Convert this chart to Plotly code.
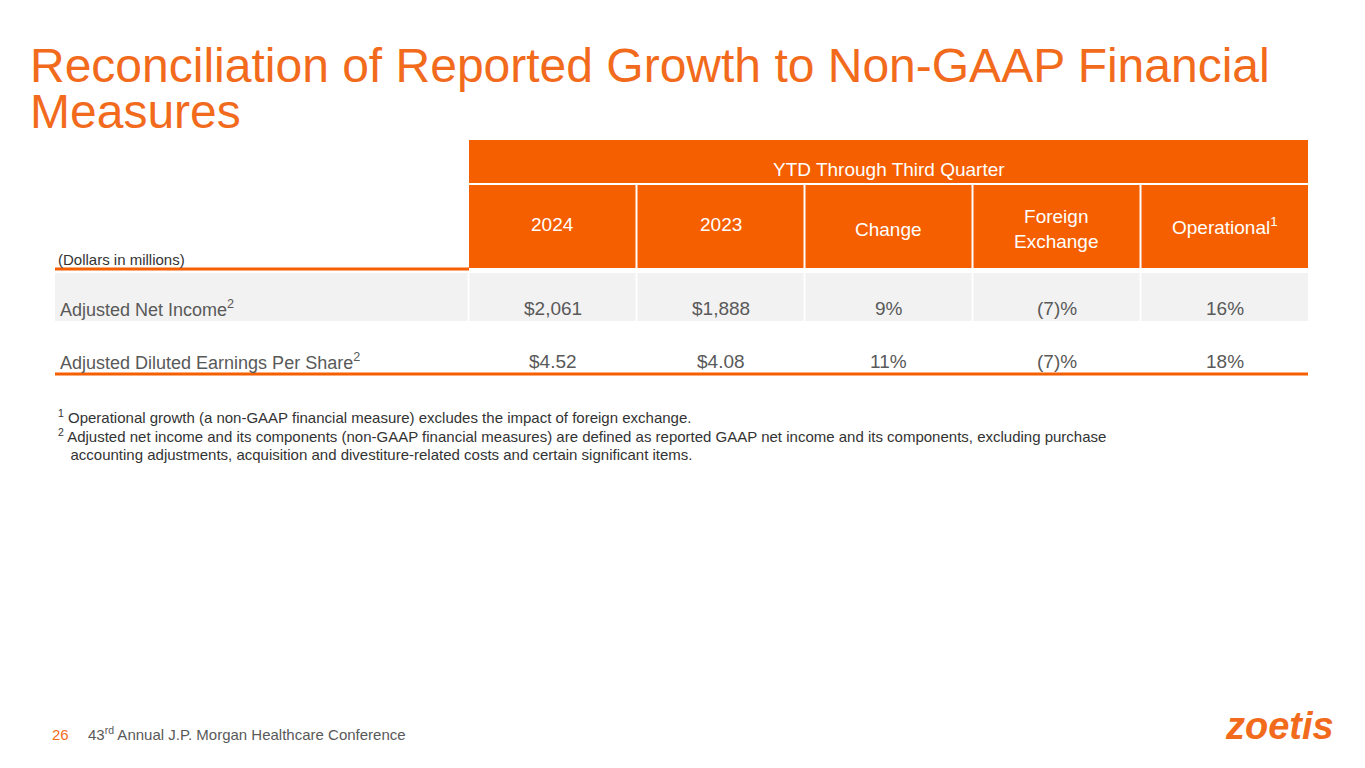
import plotly.graph_objects as go

# Table data
header_top = "YTD Through Third Quarter"
columns = ["2024", "2023", "Change", "Foreign<br>Exchange", "Operational<sup>1</sup>"]
row_labels = ["Adjusted Net Income<sup>2</sup>", "Adjusted Diluted Earnings Per Share<sup>2</sup>"]
values_2024 = ["$2,061", "$4.52"]
values_2023 = ["$1,888", "$4.08"]
change = ["9%", "11%"]
fx = ["(7)%", "(7)%"]
operational = ["16%", "18%"]

ORANGE = "#F55F00"
TITLE = "#F26B1D"
GREY = "#595959"
FONT = "Liberation Sans, Arial, sans-serif"

fig = go.Figure()
shapes = []
ann = []

col_x0 = [469, 637, 805, 973, 1141]
col_w = 167
right = 1308

# header blocks
shapes.append(dict(type="rect", x0=469, x1=right, y0=140, y1=268, fillcolor=ORANGE, line_width=0, layer="below"))
shapes.append(dict(type="line", x0=469, x1=right, y0=184, y1=184, line=dict(color="white", width=2)))
for x in col_x0[1:]:
    shapes.append(dict(type="line", x0=x - 0.5, x1=x - 0.5, y0=184, y1=268, line=dict(color="white", width=2)))
ann.append(dict(x=(469 + right) / 2, y=169, text=header_top, font=dict(size=19, color="white")))
col_y = [224, 224, 229, 229, 226]
for x, t, y in zip(col_x0, columns, col_y):
    ann.append(dict(x=x + col_w / 2, y=y, text=t, font=dict(size=19, color="white")))

# label column header
ann.append(dict(x=56, y=259, text="(Dollars in millions)", xanchor="left", font=dict(size=15, color="#333333")))
shapes.append(dict(type="line", x0=55, x1=469, y0=269, y1=269, line=dict(color=ORANGE, width=3)))

# row 1 grey background
shapes.append(dict(type="rect", x0=55, x1=right, y0=273, y1=321, fillcolor="#F2F2F2", line_width=0, layer="below"))
for x in col_x0:
    shapes.append(dict(type="line", x0=x - 0.5, x1=x - 0.5, y0=273, y1=321, line=dict(color="white", width=2)))
shapes.append(dict(type="line", x0=55, x1=right, y0=374, y1=374, line=dict(color=ORANGE, width=3)))

row_y = [308, 361]
for i, lbl in enumerate(row_labels):
    ann.append(dict(x=58, y=row_y[i], text=lbl, xanchor="left", font=dict(size=18, color=GREY)))
    for j, v in enumerate([values_2024[i], values_2023[i], change[i], fx[i], operational[i]]):
        ann.append(dict(x=col_x0[j] + col_w / 2, y=row_y[i], text=v, font=dict(size=19, color=GREY)))

# footnotes
notes = [
    "<sup>1</sup> Operational growth (a non-GAAP financial measure) excludes the impact of foreign exchange.",
    "<sup>2</sup> Adjusted net income and its components (non-GAAP financial measures) are defined as reported GAAP net income and its components, excluding purchase",
    "   accounting adjustments, acquisition and divestiture-related costs and certain significant items.",
]
for k, n in enumerate(notes):
    ann.append(dict(x=56, y=416 + k * 19, text=n, xanchor="left", font=dict(size=15, color="#333333")))

# title and footer
ann.append(dict(x=28, y=65, text="Reconciliation of Reported Growth to Non-GAAP Financial", xanchor="left",
                font=dict(size=48, color=TITLE)))
ann.append(dict(x=28, y=111, text="Measures", xanchor="left", font=dict(size=48, color=TITLE)))
ann.append(dict(x=50, y=734, text="26", xanchor="left", font=dict(size=15, color=TITLE)))
ann.append(dict(x=86, y=733, text="43<sup>rd</sup> Annual J.P. Morgan Healthcare Conference", xanchor="left",
                font=dict(size=15, color=GREY)))
ann.append(dict(x=1336, y=726, text="<b><i>zoetis</i></b>", xanchor="right", font=dict(size=38, color="#F26B1D")))

for a in ann:
    a.setdefault("showarrow", False)
    a.setdefault("xref", "x")
    a.setdefault("yref", "y")
    a.setdefault("yanchor", "middle")
    a["font"].setdefault("family", FONT)

# ranges offset by 8px to compensate for the page's body margin
fig.update_layout(
    width=1365, height=768, margin=dict(l=0, r=0, t=0, b=0),
    plot_bgcolor="white", paper_bgcolor="white",
    xaxis=dict(range=[8, 1373], visible=False, fixedrange=True),
    yaxis=dict(range=[776, 8], visible=False, fixedrange=True),
    shapes=shapes, annotations=ann, showlegend=False,
)
fig.write_html("out.html")
